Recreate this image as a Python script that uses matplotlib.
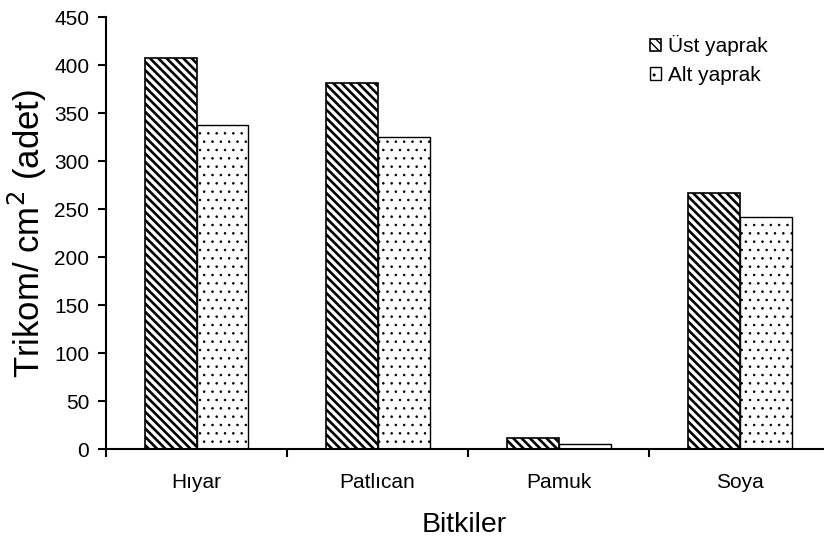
import matplotlib
matplotlib.use("Agg")
import matplotlib.pyplot as plt
import numpy as np

plt.rcParams['font.family'] = ['Liberation Sans', 'DejaVu Sans']

categories = ["Hıyar", "Patlıcan", "Pamuk", "Soya"]
ust = [407, 381, 11, 267]
alt = [338, 325, 5, 242]
series_names = ["Üst yaprak", "Alt yaprak"]
yticks = [0, 50, 100, 150, 200, 250, 300, 350, 400, 450]

fig = plt.figure(figsize=(8.24, 5.4), dpi=100)
ax = fig.add_axes([0.1286, 0.1685, 0.8702, 0.80])

x = np.arange(len(categories))
w = 0.287
with plt.rc_context({'hatch.linewidth': 1.9}):
    b1 = ax.bar(x - w / 2, ust, w, color="white", edgecolor="black", hatch="\\\\\\\\", linewidth=1.2, label=series_names[0])
with plt.rc_context({'hatch.linewidth': 0.6}):
    b2 = ax.bar(x + w / 2, alt, w, color="white", edgecolor="black", hatch="..", linewidth=1.0, label=series_names[1])
for p in b1:
    if hasattr(p, "set_hatch_linewidth"):
        p.set_hatch_linewidth(1.9)
for p in b2:
    if hasattr(p, "set_hatch_linewidth"):
        p.set_hatch_linewidth(0.6)

ax.set_xlim(-0.5, 3.46)
ax.set_ylim(0, 450)
ax.set_yticks(yticks)
ax.set_xticks(x)
ax.set_xticklabels(categories, fontsize=15)
ax.set_xticks(np.arange(len(categories)) - 0.5, minor=True)
ax.tick_params(axis="x", which="major", length=0, pad=17)
ax.tick_params(axis="x", which="minor", length=6, width=1.5, direction="out")
ax.tick_params(axis="y", length=6, width=1.5, direction="out", labelsize=15, pad=6)

for s in ["top", "right"]:
    ax.spines[s].set_visible(False)
for s in ["left", "bottom"]:
    ax.spines[s].set_linewidth(1.5)

ax.set_ylabel("Trikom/ cm$^{2}$ (adet)", fontsize=25, labelpad=4)
ax.set_xlabel("Bitkiler", fontsize=20.5, labelpad=15)

leg = ax.legend(loc="upper left", bbox_to_anchor=(0.747, 0.977), frameon=False, fontsize=15,
                handlelength=0.55, handleheight=0.55, handletextpad=0.3, labelspacing=0.45,
                borderaxespad=0.0)

fig.savefig("out.png", dpi=100)
